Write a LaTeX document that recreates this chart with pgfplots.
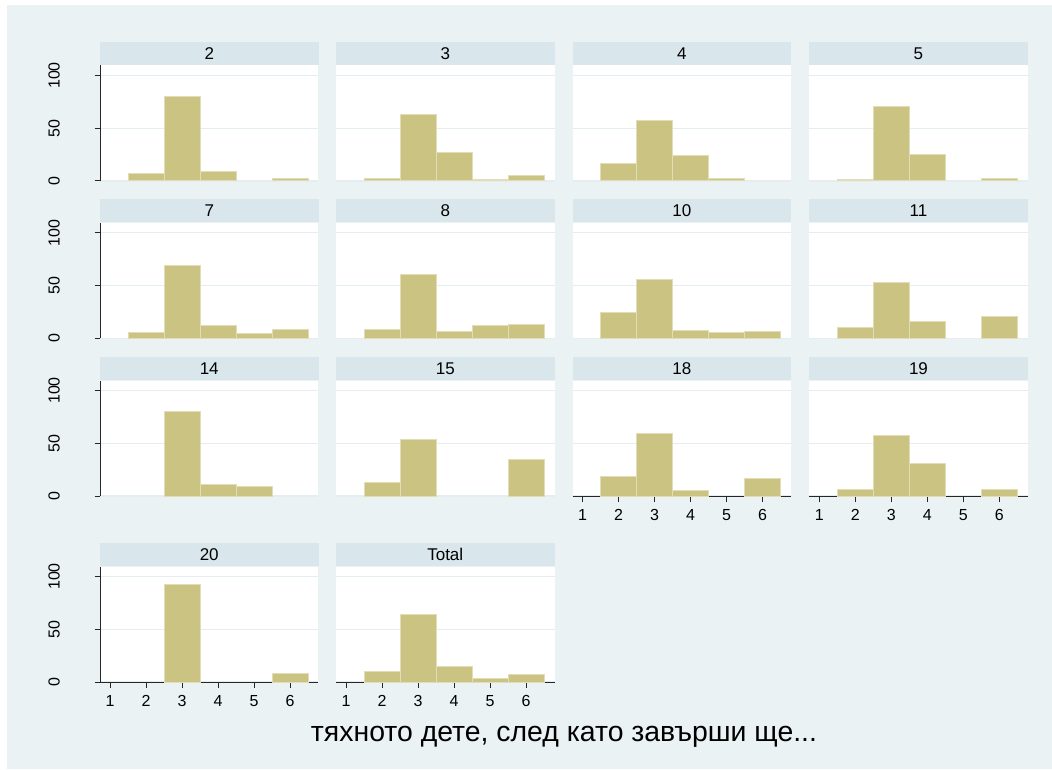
\documentclass[border=0pt]{standalone}
\usepackage{fontspec}
\setmainfont{Liberation Sans}
\usepackage{pgfplots}
\pgfplotsset{compat=1.18}

\definecolor{bgc}{RGB}{234,242,243}
\definecolor{headc}{RGB}{217,230,235}
\definecolor{barc}{RGB}{203,195,130}
\definecolor{barline}{RGB}{226,221,182}
\definecolor{gridc}{RGB}{228,238,241}

% one px of the reference = 0.5pt
\pgfplotsset{
  panel/.style={
    scale only axis, width=109.25pt, height=57.75pt,
    anchor=south west,
    xmin=0.72, xmax=6.79, ymin=0, ymax=109.5,
    axis x line*=bottom, axis y line*=left,
    axis line style={black!85, line width=0.5pt},
    xtick={1,...,6}, ytick={0,50,100},
    tick align=outside, major tick length=2.75pt,
    tick style={black!85, line width=0.5pt},
    ymajorgrids, major grid style={gridc, line width=0.6pt},
    axis background/.style={fill=white},
    ybar, bar width=1, bar shift=0pt,
    tick label style={font=\fontsize{8}{9.5}\selectfont},
    typeset ticklabels with strut,
    yticklabel style={rotate=90, anchor=south},
    yticklabel shift=11pt,
    xticklabel shift=-0.5pt,
    /pgf/number format/assume math mode=true,
    every axis title/.style={at={(0.5,1)}, anchor=south, fill=headc,
      minimum width=109.25pt, minimum height=11.75pt, inner sep=0pt,
      font=\fontsize{8.5}{10}\selectfont},
  },
  noy/.style={y axis line style={draw=none}, ytick style={draw=none}, yticklabels={}},
  nox/.style={x axis line style={draw=none}, xtick=\empty},
}

% #1 left, #2 bottom, #3 title, #4 options, #5 data
\newcommand{\panel}[5]{%
  \begin{axis}[panel, at={(#1,#2)}, title={#3}, #4]
    \addplot[fill=barc, draw=barline, line width=0.5pt] coordinates {#5};
  \end{axis}}

\begin{document}
\begin{tikzpicture}
\fill[white] (0,0) rectangle (526pt,-384.5pt);
\fill[bgc] (3.5pt,-2.5pt) rectangle (526pt,-384.5pt);

% row 1
\panel{50pt}{-90.5pt}{2}{nox}{(2,7.0) (3,80.5) (4,9.0) (6,2.7)}
\panel{168pt}{-90.5pt}{3}{nox,noy}{(2,2.6) (3,62.7) (4,26.8) (5,1.7) (6,5.5)}
\panel{286.3pt}{-90.5pt}{4}{nox,noy}{(2,16.6) (3,57.5) (4,23.8) (5,2.0)}
\panel{404.6pt}{-90.5pt}{5}{nox,noy}{(2,1.4) (3,70.8) (4,25.1) (6,2.7)}

% row 2
\panel{50pt}{-169.15pt}{7}{nox}{(2,5.8) (3,69.3) (4,12.0) (5,4.2) (6,8.3)}
\panel{168pt}{-169.15pt}{8}{nox,noy}{(2,8.3) (3,60.1) (4,6.1) (5,12.0) (6,13.0)}
\panel{286.3pt}{-169.15pt}{10}{nox,noy}{(2,24.8) (3,55.3) (4,7.7) (5,5.4) (6,6.1)}
\panel{404.6pt}{-169.15pt}{11}{nox,noy}{(2,10.2) (3,52.6) (4,15.6) (6,20.7)}

% row 3
\panel{50pt}{-248pt}{14}{nox}{(3,80.3) (4,10.7) (5,9.0)}
\panel{168pt}{-248pt}{15}{nox,noy}{(2,12.8) (3,53.1) (6,34.3)}
\panel{286.3pt}{-248pt}{18}{noy}{(2,18.8) (3,59.2) (4,5.4) (6,16.6)}
\panel{404.6pt}{-248pt}{19}{noy}{(2,6.1) (3,57.2) (4,30.8) (6,6.1)}

% row 4
\panel{50pt}{-341pt}{20}{}{(3,92.0) (6,8.0)}
\panel{168pt}{-341pt}{Total}{noy}{(2,9.8) (3,64.2) (4,15.1) (5,3.5) (6,7.3)}

\node[anchor=base, font=\fontsize{14.2}{16}\selectfont] at (282pt,-370.5pt)
  {тяхното дете, след като завърши ще...};
\end{tikzpicture}
\end{document}
